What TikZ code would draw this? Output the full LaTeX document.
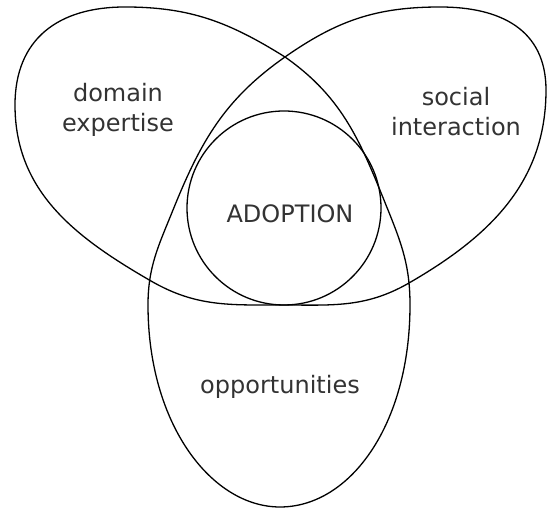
\documentclass[tikz,border=0pt]{standalone}
\usepackage{fontspec}
\setmainfont{DejaVu Sans}
\begin{document}
\begin{tikzpicture}[x=1pt,y=1pt,line width=1.3pt,
  lab/.style={align=center,font=\fontsize{24}{30}\selectfont,text=black!80}]
\useasboundingbox (0,0) rectangle (549,510);
\coordinate (top) at (285,453);
\draw (top) to[out=148,in=0] (125,503) to[out=180,in=90,looseness=1.15] (15,405)
  to[out=270,in=150] (151,229)
  to[out=-30,in=180] (281,205) to[out=0,in=-150] (409,227)
  to[out=30,in=270] (546,420)
  to[out=90,in=0,looseness=1.15] (440,503) to[out=180,in=35] (top)
  to[out=215,in=68] (173,300) to[out=248,in=90] (148,205)
  .. controls (148,85) and (212,3) .. (280,3)
  .. controls (350,3) and (410,85) .. (410,205)
  to[out=90,in=-68] (388,300) to[out=112,in=-35] (top);
\draw (284,302) circle (97pt);
\node[lab] (domain) at (118,400) {domain\\expertise};
\node[lab] (social) at (456,398) {social\\interaction};
\node[lab] (adoption) at (290,296) {ADOPTION};
\node[lab] (opps) at (280,123) {opportunities};
\end{tikzpicture}
\end{document}
